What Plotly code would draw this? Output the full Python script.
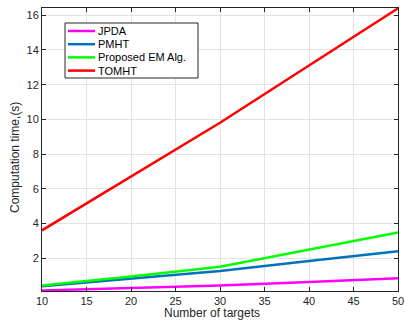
import plotly.graph_objects as go

targets = [10, 20, 30, 40, 50]
jpda = [0.13, 0.27, 0.42, 0.62, 0.83]
pmht = [0.37, 0.79, 1.25, 1.83, 2.40]
proposed = [0.41, 0.93, 1.50, 2.48, 3.47]
tomht = [3.6, 6.7, 9.8, 13.1, 16.4]

x_ticks = [10, 15, 20, 25, 30, 35, 40, 45, 50]
y_ticks = [2, 4, 6, 8, 10, 12, 14, 16]

series_names = ["JPDA", "PMHT", "Proposed EM Alg.", "TOMHT"]
series_values = [jpda, pmht, proposed, tomht]
series_colors = ["#FF00FF", "#0072BD", "#00FF00", "#FF0000"]

FONT = "Liberation Sans, Arial, sans-serif"
TXT = "#262626"

fig = go.Figure()
for name, vals, color in zip(series_names, series_values, series_colors):
    fig.add_trace(go.Scatter(x=targets, y=vals, mode="lines", name=name,
                             line=dict(color=color, width=2.5), showlegend=False))

axis_common = dict(
    showline=True, linecolor=TXT, linewidth=1, mirror="ticks",
    ticks="inside", ticklen=4, tickcolor=TXT,
    showgrid=True, gridcolor="#E3E3E3", gridwidth=1, zeroline=False,
    automargin=False, ticklabeloverflow="allow",
    tickfont=dict(family=FONT, size=11, color=TXT),
)

fig.update_xaxes(range=[10, 50], tickvals=x_ticks, **axis_common)
fig.update_yaxes(range=[0.1, 16.42], tickvals=y_ticks, **axis_common)

# body margin removed via post_script, so figure fills the window exactly
W, H = 405, 322
# plot area in window pixels: x 42..398, y 8..291
ml, mr, mt, mb = 42, 7, 8, 31
pw, ph = W - ml - mr, H - mt - mb

def px_x(x):
    return (x - ml) / pw

def px_y(y):
    return (H - mb - y) / ph

shapes = []
annotations = []
shapes.append(dict(type="rect", xref="paper", yref="paper",
                   x0=px_x(65), x1=px_x(198), y0=px_y(78), y1=px_y(23),
                   line=dict(color=TXT, width=1), fillcolor="white", layer="above"))
for i, (name, color) in enumerate(zip(series_names, series_colors)):
    yc = 31 + i * 13.2
    shapes.append(dict(type="line", xref="paper", yref="paper",
                       x0=px_x(68), x1=px_x(95), y0=px_y(yc), y1=px_y(yc),
                       line=dict(color=color, width=2.5), layer="above"))
    annotations.append(dict(text=name, xref="paper", yref="paper",
                            x=px_x(96), y=px_y(yc), xanchor="left", yanchor="middle",
                            showarrow=False, font=dict(family=FONT, size=11, color="#000000")))

annotations.append(dict(text="Number of targets", xref="paper", yref="paper",
                        x=px_x(212), y=px_y(313), xanchor="center", yanchor="middle",
                        showarrow=False, font=dict(family=FONT, size=12, color=TXT)))
annotations.append(dict(text="Computation time,(s)", xref="paper", yref="paper",
                        x=px_x(15), y=px_y(158), xanchor="center", yanchor="middle",
                        textangle=-90, showarrow=False,
                        font=dict(family=FONT, size=12, color=TXT)))

fig.update_layout(
    width=W, height=H,
    margin=dict(l=ml, r=mr, t=mt, b=mb),
    paper_bgcolor="white", plot_bgcolor="white",
    showlegend=False,
    shapes=shapes, annotations=annotations,
)

fig.write_html("out.html",
               config={"displayModeBar": False},
               post_script="document.body.style.margin='0';document.body.style.overflow='hidden';")
